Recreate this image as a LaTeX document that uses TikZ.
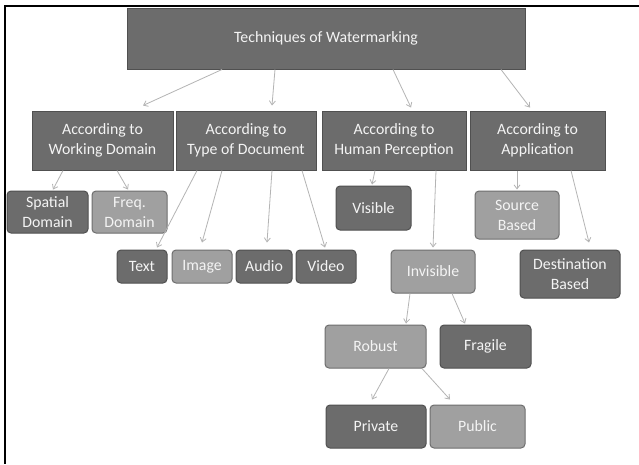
\documentclass[tikz,border=0pt]{standalone}
\usepackage{fontspec}
\setmainfont{Carlito}
\usetikzlibrary{arrows.meta}
\definecolor{darkfill}{HTML}{6C6C6C}
\definecolor{darkline}{HTML}{505050}
\definecolor{lightfill}{HTML}{A0A0A0}
\definecolor{lightline}{HTML}{6E6E6E}
\definecolor{txt}{HTML}{F4F4F4}
\definecolor{arr}{HTML}{B4B4B4}
\tikzset{
  box/.style={draw=darkline, fill=darkfill, line width=1pt, text=txt, align=center, inner sep=1pt,
    font=\fontsize{15.8}{20}\selectfont},
  catbox/.style={box},
  darkleaf/.style={box, rounded corners=4pt},
  lightleaf/.style={box, rounded corners=4pt, fill=lightfill, draw=lightline},
  conn/.style={draw=arr, line width=0.8pt, -{Straight Barb[length=4pt,width=6pt]}},
}
\begin{document}
\begin{tikzpicture}[x=1pt,y=-1pt]
\useasboundingbox (0,0) rectangle (639,464);
\fill[white] (0,0) rectangle (639,464);
\draw[line width=2pt] (639,6) -- (5,6) -- (5,464);
% top
\node[catbox, minimum width=398, minimum height=61] (top) at (326,38.5) {Techniques of Watermarking};
% categories
\node[catbox, minimum width=141, minimum height=59] (wd) at (102.5,140.5) {According to\\Working Domain};
\node[catbox, minimum width=140, minimum height=59] (td) at (246,140.5) {According to\\Type of Document};
\node[catbox, minimum width=144, minimum height=59] (hp) at (394,140.5) {According to\\Human Perception};
\node[catbox, minimum width=135, minimum height=59] (app) at (537.5,140.5) {According to\\Application};
% leaves
\node[darkleaf, minimum width=81, minimum height=42] (spatial) at (47.5,212) {Spatial\\Domain};
\node[lightleaf, minimum width=75, minimum height=42] (freq) at (129.5,212) {Freq.\\Domain};
\node[darkleaf, minimum width=50, minimum height=33] (text) at (142,266.5) {Text};
\node[lightleaf, minimum width=60, minimum height=33] (image) at (202,266.5) {Image};
\node[darkleaf, minimum width=56, minimum height=33] (audio) at (264,266.5) {Audio};
\node[darkleaf, minimum width=60, minimum height=33] (video) at (326,266.5) {Video};
\node[darkleaf, minimum width=75, minimum height=44] (visible) at (373.5,208) {Visible};
\node[lightleaf, minimum width=84, minimum height=48] (source) at (517,215) {Source\\Based};
\node[lightleaf, minimum width=84, minimum height=43] (invisible) at (433,271.5) {Invisible};
\node[darkleaf, minimum width=100, minimum height=48] (dest) at (570,274) {Destination\\Based};
\node[lightleaf, minimum width=101, minimum height=43] (robust) at (375.5,346.5) {Robust};
\node[darkleaf, minimum width=91, minimum height=43] (fragile) at (485.5,346.5) {Fragile};
\node[darkleaf, minimum width=100, minimum height=43] (private) at (376,426.5) {Private};
\node[lightleaf, minimum width=95, minimum height=43] (public) at (477.5,426.5) {Public};
% connectors
\draw[conn] ([xshift=-104pt]top.south) -- ([xshift=40.5pt,yshift=5pt]wd.north);
\draw[conn] ([xshift=-51pt]top.south) -- ([xshift=26pt,yshift=5pt]td.north);
\draw[conn] ([xshift=67pt]top.south) -- ([xshift=17pt,yshift=3pt]hp.north);
\draw[conn] ([xshift=175pt]top.south) -- ([xshift=-7.5pt,yshift=3pt]app.north);
\draw[conn] ([xshift=-39.5pt]wd.south) -- ([xshift=5.5pt,yshift=1pt]spatial.north);
\draw[conn] ([xshift=14.5pt]wd.south) -- ([xshift=-1.5pt,yshift=1pt]freq.north);
\draw[conn] ([xshift=-49pt]td.south) -- ([xshift=15pt,yshift=2pt]text.north);
\draw[conn] ([xshift=-24pt]td.south) -- ([yshift=7pt]image.north);
\draw[conn] ([xshift=26pt]td.south) -- ([xshift=3pt,yshift=7pt]audio.north);
\draw[conn] ([xshift=56pt]td.south) -- ([xshift=-1pt,yshift=2pt]video.north);
\draw[conn] ([xshift=-19pt]hp.south) -- ([xshift=-1.5pt,yshift=1pt]visible.north);
\draw[conn] ([xshift=42pt]hp.south) -- ([yshift=2pt]invisible.north);
\draw[conn] ([xshift=-20.5pt]app.south) -- ([yshift=1pt]source.north);
\draw[conn] ([xshift=33.5pt]app.south) -- ([xshift=19pt,yshift=7pt]dest.north);
\draw[conn] ([xshift=-23pt]invisible.south) -- ([xshift=30.5pt,yshift=1pt]robust.north);
\draw[conn] ([xshift=19pt]invisible.south) -- ([xshift=-20.5pt,yshift=1pt]fragile.north);
\draw[conn] ([xshift=13.5pt]robust.south) -- ([xshift=-4pt,yshift=5pt]private.north);
\draw[conn] ([xshift=46.5pt]robust.south) -- ([xshift=-27.5pt,yshift=5pt]public.north);
\end{tikzpicture}
\end{document}
